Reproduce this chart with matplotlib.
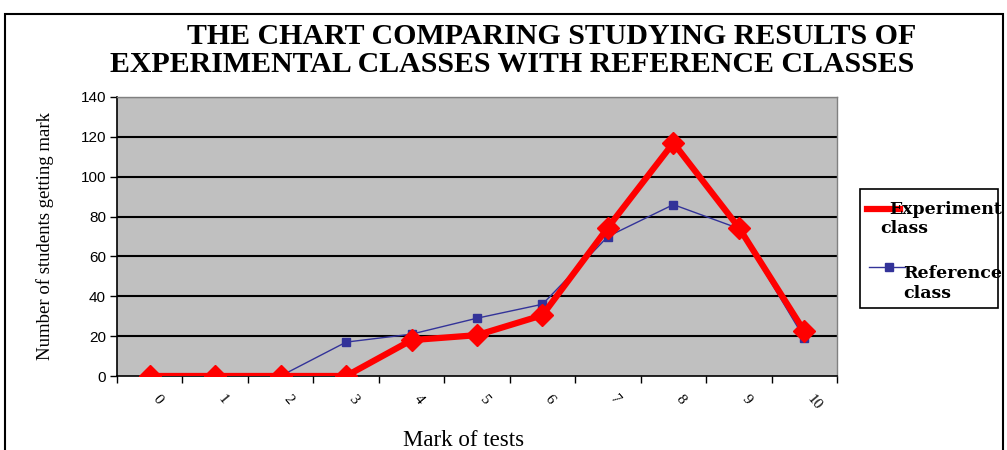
import matplotlib
matplotlib.use("Agg")
import matplotlib.pyplot as plt
from matplotlib.patches import Rectangle
from matplotlib.lines import Line2D

marks = ["0", "1", "2", "3", "4", "5", "6", "7", "8", "9", "10"]
experiment = [0, 0, 0, 0, 18, 20.5, 30.5, 74.5, 117, 74.5, 22.5]
reference = [0, 0, 0, 17, 21, 29, 36, 70, 86, 74, 19]
yticks = [0, 20, 40, 60, 80, 100, 120, 140]

title1 = "THE CHART COMPARING STUDYING RESULTS OF"
title2 = "EXPERIMENTAL CLASSES WITH REFERENCE CLASSES"
exp_label = "Experiment\nclass"
ref_label = "Reference\nclass"

RED = "#FF0000"
BLUE = "#333399"

W, H = 1007, 450
fig = plt.figure(figsize=(W / 100, H / 100), dpi=100)
fig.patch.set_facecolor("white")

ax = fig.add_axes([117 / W, 1 - 376 / H, 720 / W, 279 / H])
ax.set_facecolor("#C0C0C0")
x = list(range(len(marks)))

ax.plot(x, reference, color=BLUE, lw=1.0, marker="s", ms=6,
        mfc=BLUE, mec=BLUE, zorder=3)
ax.plot(x, experiment, color=RED, lw=4.5, marker="D", ms=11,
        mfc=RED, mec=RED, zorder=4)

ax.set_xlim(-0.5, len(marks) - 0.5)
ax.set_ylim(0, 140)
ax.set_yticks(yticks)
ax.set_yticklabels([str(v) for v in yticks], fontfamily="Liberation Sans", fontsize=11)
for v in yticks[1:]:
    ax.axhline(v, color="black", lw=1.5, zorder=1)

ax.set_xticks([i - 0.5 for i in range(len(marks) + 1)], minor=False)
ax.set_xticklabels([""] * (len(marks) + 1))
ax.set_xticks(x, minor=True)
ax.set_xticklabels(marks, minor=True, rotation=-50, fontfamily="Liberation Serif",
                   fontsize=11, ha="left", va="top")
ax.tick_params(axis="x", which="minor", length=0, pad=12)
ax.tick_params(axis="x", which="major", length=5, width=1, direction="out")
ax.tick_params(axis="y", length=5, width=1, direction="out", pad=3)

for s in ["top", "right"]:
    ax.spines[s].set_color("#808080")
    ax.spines[s].set_linewidth(1)
for s in ["left", "bottom"]:
    ax.spines[s].set_color("black")
    ax.spines[s].set_linewidth(1.2)

ax.set_ylabel("Number of students getting mark", fontfamily="Liberation Serif",
              fontsize=13.5)
ax.yaxis.set_label_coords(-72 / 720, 0.5)
ax.yaxis.label.set_va("center")
ax.set_xlabel("Mark of tests", fontfamily="Liberation Serif", fontsize=16.5)
ax.xaxis.set_label_coords((464 - 117) / 720, -(440 - 376) / 279)
ax.xaxis.label.set_va("center")

fig.text(552 / W, 1 - 37 / H, title1, ha="center", va="center",
         fontfamily="Liberation Serif", fontweight="bold", fontsize=21.5)
fig.text(512 / W, 1 - 64 / H, title2, ha="center", va="center",
         fontfamily="Liberation Serif", fontweight="bold", fontsize=21.5)

fig.add_artist(Rectangle((5 / W, -0.05), 998 / W, 1 - 14 / H + 0.05,
                         transform=fig.transFigure, fill=False,
                         edgecolor="black", lw=1.5, clip_on=False))

# legend (manual, to match overflowing text of the reference)
fig.add_artist(Rectangle((860 / W, 1 - 308 / H), 138 / W, 119 / H,
                         transform=fig.transFigure, fill=True, facecolor="white",
                         edgecolor="black", lw=1.2, zorder=5))
fig.add_artist(Line2D([867 / W, 900 / W], [1 - 209 / H] * 2, transform=fig.transFigure,
                      color=RED, lw=4.5, zorder=6))
fig.add_artist(Line2D([869 / W, 889 / W, 905 / W], [1 - 267 / H] * 3,
                      transform=fig.transFigure,
                      color=BLUE, lw=1.0, marker="s", ms=6, markevery=[1],
                      mfc=BLUE, mec=BLUE, zorder=6))
fs = 12.5
fig.text(889 / W, 1 - 209 / H, exp_label.split("\n")[0], ha="left", va="center",
         fontfamily="DejaVu Serif", fontweight="bold", fontsize=fs, zorder=7)
fig.text(880 / W, 1 - 229 / H, exp_label.split("\n")[1], ha="left", va="center",
         fontfamily="DejaVu Serif", fontweight="bold", fontsize=fs, zorder=7)
fig.text(903 / W, 1 - 273 / H, ref_label.split("\n")[0], ha="left", va="center",
         fontfamily="DejaVu Serif", fontweight="bold", fontsize=fs, zorder=7)
fig.text(903 / W, 1 - 293 / H, ref_label.split("\n")[1], ha="left", va="center",
         fontfamily="DejaVu Serif", fontweight="bold", fontsize=fs, zorder=7)

fig.savefig("out.png", dpi=100)
